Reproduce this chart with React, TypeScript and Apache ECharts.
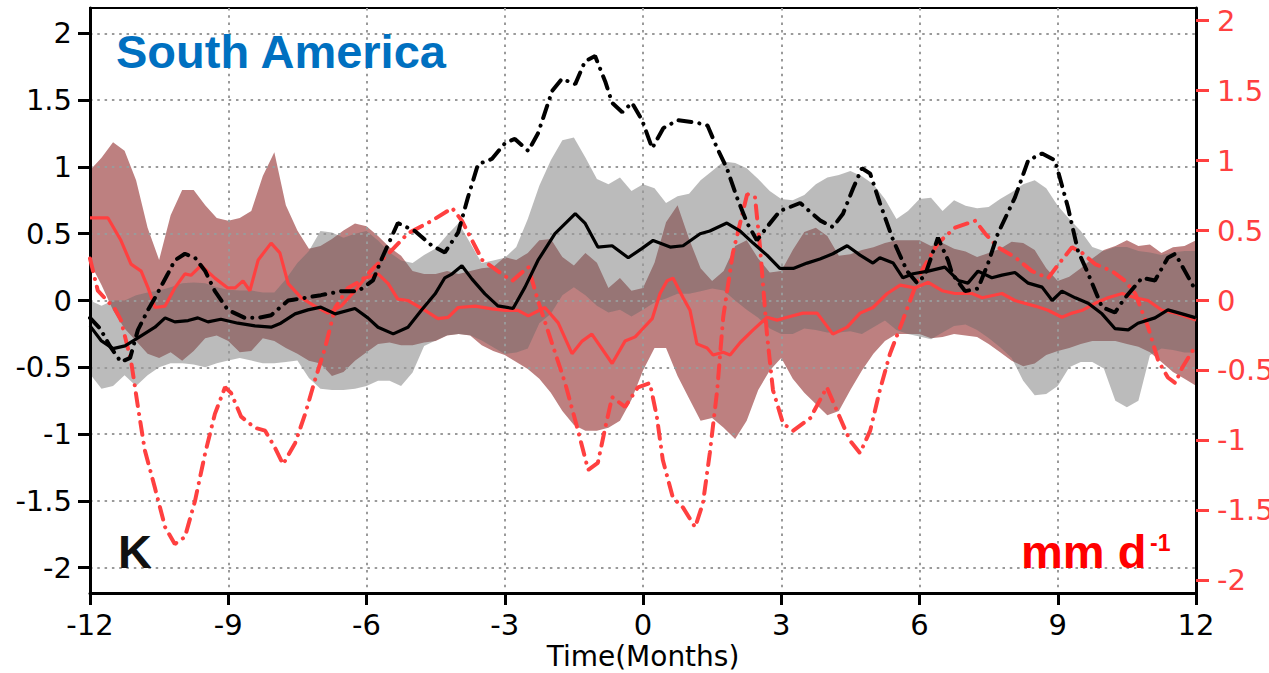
import React, { useEffect, useRef } from "react";
import * as echarts from "echarts";

// ---- data ----
const bandTime = [
  -12, -11.75, -11.5, -11.25, -11, -10.75, -10.5, -10.25, -10, -9.75, -9.5, -9.25, -9, -8.75, -8.5, -8.25, -8, -7.75, -7.5, -7.25, -7,
  -6.75, -6.5, -6.25, -6, -5.75, -5.5, -5.25, -5, -4.75, -4.5, -4.25, -4, -3.75, -3.5, -3.25, -3, -2.75, -2.5, -2.25, -2,
  -1.75, -1.5, -1.25, -1, -0.75, -0.5, -0.25, 0, 0.25, 0.5, 0.75, 1, 1.25, 1.5, 1.75, 2, 2.25, 2.5, 2.75, 3,
  3.25, 3.5, 3.75, 4, 4.25, 4.5, 4.75, 5, 5.25, 5.5, 5.75, 6, 6.25, 6.5, 6.75, 7, 7.25, 7.5, 7.75, 8,
  8.25, 8.5, 8.75, 9, 9.25, 9.5, 9.75, 10, 10.25, 10.5, 10.75, 11, 11.25, 11.5, 11.75, 12,
];

// temperature spread (K, left axis)
const grayHi = [
  0.0, -0.04, 0.0, 0.0, 0.04, 0.06, 0.075, 0.1, 0.13, 0.135, 0.13, 0.1, 0.08, 0.075, 0.075, 0.06, 0.06, 0.16, 0.28, 0.37, 0.52,
  0.51, 0.47, 0.5, 0.52, 0.45, 0.36, 0.3, 0.28, 0.34, 0.39, 0.49, 0.58, 0.43, 0.28, 0.3, 0.32, 0.4, 0.61, 0.86, 1.05,
  1.2, 1.22, 1.07, 0.91, 0.87, 0.92, 0.82, 0.87, 0.84, 0.73, 0.78, 0.8, 0.9, 0.97, 1.04, 1.03, 0.99, 0.91, 0.82, 0.76,
  0.75, 0.79, 0.87, 0.92, 0.94, 0.97, 0.93, 0.87, 0.76, 0.61, 0.67, 0.76, 0.77, 0.67, 0.75, 0.71, 0.69, 0.7, 0.76, 0.81,
  0.87, 0.9, 0.84, 0.71, 0.61, 0.52, 0.4, 0.37, 0.4, 0.4, 0.37, 0.36, 0.34, 0.36, 0.37, 0.37,
];
const grayLo = [
  -0.55, -0.66, -0.64, -0.56, -0.64, -0.56, -0.5, -0.47, -0.47, -0.48, -0.5, -0.47, -0.45, -0.43, -0.45, -0.47, -0.47, -0.46, -0.45, -0.58, -0.66,
  -0.67, -0.67, -0.66, -0.64, -0.6, -0.6, -0.64, -0.54, -0.34, -0.3, -0.26, -0.25, -0.26, -0.3, -0.35, -0.4, -0.39, -0.36, -0.17, -0.1,
  0.04, 0.1, 0.04, -0.04, -0.09, -0.07, -0.12, -0.07, -0.015, 0.015, 0.05, 0.05, 0.07, 0.09, 0.075, 0, -0.07, -0.13, -0.21, -0.25,
  -0.25, -0.21, -0.22, -0.24, -0.24, -0.23, -0.25, -0.2, -0.15, -0.22, -0.25, -0.27, -0.29, -0.24, -0.19, -0.18, -0.22, -0.28, -0.35, -0.43,
  -0.6, -0.71, -0.7, -0.64, -0.5, -0.46, -0.46, -0.51, -0.75, -0.8, -0.75, -0.41, -0.36, -0.37, -0.39, -0.39,
];

// precipitation spread (mm d-1, right axis)
const redHi = [
  0.93, 1.02, 1.13, 1.07, 0.86, 0.52, 0.29, 0.61, 0.79, 0.79, 0.68, 0.59, 0.57, 0.59, 0.64, 0.89, 1.06, 0.68, 0.5, 0.37, 0.39,
  0.44, 0.5, 0.55, 0.53, 0.46, 0.38, 0.32, 0.21, 0.19, 0.19, 0.21, 0.19, 0.21, 0.23, 0.24, 0.31, 0.29, 0.34, 0.43, 0.44,
  0.31, 0.25, 0.34, 0.27, 0.09, 0.16, 0.07, 0.09, 0.27, 0.56, 0.68, 0.44, 0.23, 0.14, 0.21, 0.39, 0.43, 0.3, 0.2, 0.21,
  0.36, 0.49, 0.52, 0.46, 0.32, 0.33, 0.36, 0.38, 0.41, 0.43, 0.43, 0.43, 0.39, 0.41, 0.37, 0.35, 0.31, 0.34, 0.37, 0.42,
  0.41, 0.36, 0.23, 0.14, 0.17, 0.23, 0.3, 0.36, 0.39, 0.43, 0.39, 0.4, 0.34, 0.38, 0.39, 0.43,
];
const redLo = [
  0.27, 0.11, -0.07, -0.2, -0.29, -0.38, -0.41, -0.37, -0.43, -0.36, -0.27, -0.25, -0.29, -0.37, -0.36, -0.27, -0.29, -0.34, -0.38, -0.43, -0.45,
  -0.54, -0.51, -0.43, -0.37, -0.31, -0.3, -0.32, -0.32, -0.3, -0.29, -0.25, -0.24, -0.25, -0.32, -0.36, -0.39, -0.44, -0.49, -0.56, -0.66,
  -0.79, -0.89, -0.93, -0.93, -0.91, -0.86, -0.71, -0.5, -0.34, -0.34, -0.54, -0.7, -0.86, -0.84, -0.91, -0.99, -0.86, -0.64, -0.5, -0.41,
  -0.56, -0.66, -0.74, -0.82, -0.79, -0.64, -0.5, -0.38, -0.29, -0.24, -0.24, -0.24, -0.27, -0.26, -0.24, -0.25, -0.26, -0.31, -0.37, -0.43,
  -0.47, -0.45, -0.39, -0.36, -0.34, -0.31, -0.29, -0.29, -0.29, -0.31, -0.33, -0.37, -0.44, -0.51, -0.56, -0.61,
];

// black solid (K)
const blackSolid = [
  [-12, -0.19], [-11.76, -0.3], [-11.5, -0.36], [-11.24, -0.34], [-10.96, -0.28], [-10.59, -0.2], [-10.37, -0.13], [-10.16, -0.16],
  [-9.87, -0.15], [-9.66, -0.13], [-9.44, -0.16], [-9.16, -0.14], [-8.79, -0.17], [-8.42, -0.19], [-8.07, -0.2], [-7.86, -0.17],
  [-7.55, -0.1], [-7.27, -0.07], [-6.99, -0.05], [-6.68, -0.1], [-6.25, -0.06], [-5.97, -0.13], [-5.75, -0.2], [-5.42, -0.25],
  [-5.1, -0.2], [-4.8, -0.07], [-4.51, 0.05], [-4.3, 0.17], [-4.14, 0.2], [-3.93, 0.26], [-3.71, 0.16], [-3.43, 0.05],
  [-3.15, -0.04], [-2.82, -0.06], [-2.56, 0.1], [-2.28, 0.3], [-1.91, 0.5], [-1.47, 0.65], [-1.26, 0.58], [-0.98, 0.4],
  [-0.67, 0.41], [-0.32, 0.32], [-0.02, 0.39], [0.22, 0.45], [0.59, 0.4], [0.87, 0.41], [1.24, 0.5], [1.45, 0.52],
  [1.82, 0.58], [2.11, 0.52], [2.39, 0.43], [2.69, 0.34], [2.97, 0.24], [3.26, 0.24], [3.56, 0.28], [3.84, 0.31],
  [4.12, 0.35], [4.43, 0.41], [4.71, 0.34], [4.99, 0.28], [5.14, 0.32], [5.43, 0.28], [5.64, 0.17], [5.86, 0.2],
  [6.19, 0.22], [6.55, 0.25], [6.84, 0.15], [7.05, 0.13], [7.27, 0.22], [7.57, 0.17], [7.79, 0.19], [8.07, 0.21],
  [8.36, 0.13], [8.66, 0.1], [8.88, 0], [9.09, 0.07], [9.38, 0.02], [9.66, -0.02], [9.96, -0.1], [10.24, -0.21],
  [10.53, -0.22], [10.74, -0.17], [11.11, -0.13], [11.39, -0.07], [11.7, -0.1], [12, -0.13],
];

// black dash-dot (K)
const blackDashDot = [
  [-12, -0.13], [-11.78, -0.21], [-11.57, -0.34], [-11.33, -0.46], [-11.13, -0.43], [-10.96, -0.22], [-10.74, -0.07], [-10.59, 0.02],
  [-10.31, 0.2], [-10.16, 0.3], [-9.94, 0.35], [-9.72, 0.32], [-9.5, 0.22], [-9.29, 0.07], [-9.01, -0.07], [-8.64, -0.13],
  [-8.35, -0.13], [-8.07, -0.11], [-7.7, 0], [-7.33, 0.02], [-6.99, 0.04], [-6.55, 0.07], [-6.18, 0.07], [-5.86, 0.15],
  [-5.66, 0.32], [-5.32, 0.58], [-4.95, 0.52], [-4.58, 0.41], [-4.3, 0.36], [-4.01, 0.51], [-3.8, 0.77], [-3.58, 1.02],
  [-3.28, 1.06], [-2.99, 1.18], [-2.78, 1.21], [-2.49, 1.12], [-2.28, 1.25], [-1.97, 1.57], [-1.76, 1.66], [-1.47, 1.62],
  [-1.26, 1.79], [-1.04, 1.83], [-0.82, 1.64], [-0.67, 1.48], [-0.45, 1.41], [-0.24, 1.48], [-0.02, 1.35], [0.2, 1.14],
  [0.44, 1.29], [0.75, 1.35], [1.18, 1.33], [1.4, 1.31], [1.61, 1.14], [1.82, 0.99], [2.04, 0.77], [2.26, 0.58],
  [2.47, 0.45], [2.69, 0.55], [2.97, 0.67], [3.41, 0.73], [3.84, 0.6], [4.12, 0.55], [4.34, 0.65], [4.56, 0.84],
  [4.75, 0.99], [4.93, 0.95], [5.14, 0.73], [5.43, 0.45], [5.73, 0.22], [5.95, 0.13], [6.12, 0.19], [6.4, 0.47],
  [6.62, 0.3], [6.71, 0.2], [6.99, 0.07], [7.27, 0.09], [7.49, 0.28], [7.7, 0.5], [8.07, 0.77], [8.36, 1.05],
  [8.66, 1.1], [8.94, 1.05], [9.22, 0.7], [9.44, 0.37], [9.66, 0.2], [9.96, -0.05], [10.24, -0.09], [10.46, 0.02],
  [10.83, 0.17], [11.11, 0.15], [11.39, 0.32], [11.55, 0.35], [11.76, 0.22], [12, 0.07],
];

// red solid (mm d-1)
const redSolid = [
  [-12, 0.59], [-11.61, 0.59], [-11.33, 0.43], [-11.11, 0.26], [-10.89, 0.21], [-10.74, 0.09], [-10.59, -0.05], [-10.37, -0.04],
  [-10.16, 0.09], [-9.94, 0.19], [-9.81, 0.18], [-9.59, 0.25], [-9.29, 0.16], [-9.01, 0.09], [-8.85, 0.09], [-8.68, 0.14],
  [-8.53, 0.07], [-8.35, 0.29], [-8.07, 0.41], [-7.88, 0.34], [-7.7, 0.12], [-7.42, 0.02], [-7.12, -0.04], [-6.84, -0.09],
  [-6.55, -0.04], [-6.25, 0.07], [-6.03, 0.16], [-5.75, 0.19], [-5.53, 0.12], [-5.32, 0.01], [-5.1, 0], [-4.73, -0.07],
  [-4.45, -0.13], [-4.23, -0.12], [-4.01, -0.05], [-3.64, -0.04], [-3.28, -0.06], [-2.99, -0.07], [-2.71, -0.07], [-2.49, -0.11],
  [-2.13, -0.05], [-1.84, -0.16], [-1.54, -0.38], [-1.32, -0.29], [-1.11, -0.24], [-0.67, -0.45], [-0.39, -0.29], [-0.17, -0.26],
  [0, -0.2], [0.2, -0.13], [0.37, 0.05], [0.52, 0.14], [0.65, 0.16], [0.87, 0.02], [1.02, -0.07], [1.17, -0.31],
  [1.39, -0.34], [1.52, -0.39], [1.74, -0.37], [1.89, -0.39], [2.11, -0.3], [2.39, -0.21], [2.69, -0.12], [2.91, -0.14],
  [3.13, -0.12], [3.47, -0.09], [3.78, -0.09], [4.12, -0.24], [4.43, -0.19], [4.71, -0.09], [4.99, -0.05], [5.3, 0.05],
  [5.58, 0.11], [5.9, 0.09], [6.19, 0.13], [6.49, 0.07], [6.77, 0.05], [7.14, 0.05], [7.36, 0.02], [7.79, 0.05],
  [8.07, 0], [8.51, -0.04], [8.79, -0.07], [9.09, -0.12], [9.31, -0.09], [9.53, -0.07], [9.81, -0.02], [10.09, 0.02],
  [10.4, 0.05], [10.68, 0.02], [10.96, 0], [11.26, -0.07], [11.55, -0.09], [12, -0.14],
];

// red dash-dot (mm d-1)
const redDashDot = [
  [-12, 0.3], [-11.83, 0.07], [-11.46, -0.06], [-11.33, -0.14], [-11.11, -0.43], [-10.96, -0.76], [-10.81, -1.07], [-10.59, -1.34],
  [-10.37, -1.62], [-10.16, -1.74], [-9.94, -1.69], [-9.72, -1.43], [-9.5, -1.09], [-9.29, -0.81], [-9.07, -0.62], [-8.94, -0.66],
  [-8.72, -0.83], [-8.42, -0.91], [-8.2, -0.93], [-7.99, -1.05], [-7.81, -1.17], [-7.55, -1.02], [-7.33, -0.81], [-7.12, -0.57],
  [-6.9, -0.34], [-6.68, -0.05], [-6.4, 0.09], [-6.12, 0.14], [-5.82, 0.24], [-5.45, 0.36], [-5.1, 0.48], [-4.58, 0.57],
  [-4.14, 0.66], [-3.93, 0.57], [-3.71, 0.43], [-3.49, 0.29], [-3.15, 0.21], [-2.84, 0.14], [-2.49, 0.24], [-2.28, 0],
  [-1.97, -0.31], [-1.69, -0.59], [-1.41, -0.93], [-1.19, -1.21], [-0.98, -1.16], [-0.82, -0.91], [-0.67, -0.69], [-0.39, -0.76],
  [-0.11, -0.62], [0.15, -0.59], [0.3, -0.83], [0.43, -1.14], [0.65, -1.41], [0.87, -1.48], [1.13, -1.62], [1.3, -1.45],
  [1.45, -1.09], [1.61, -0.64], [1.74, -0.12], [1.95, 0.34], [2.26, 0.76], [2.43, 0.74], [2.54, 0.38], [2.69, -0.24],
  [2.82, -0.64], [3.04, -0.88], [3.26, -0.93], [3.63, -0.84], [3.99, -0.62], [4.21, -0.79], [4.49, -1.0], [4.71, -1.09],
  [4.93, -0.93], [5.14, -0.64], [5.36, -0.38], [5.64, -0.14], [6.01, 0.19], [6.4, 0.41], [6.77, 0.52], [7.21, 0.57],
  [7.42, 0.48], [7.7, 0.38], [8.07, 0.31], [8.44, 0.21], [8.79, 0.16], [9.09, 0.29], [9.31, 0.38], [9.53, 0.34],
  [9.81, 0.26], [10.18, 0.21], [10.46, 0.14], [10.68, 0.05], [10.96, -0.19], [11.18, -0.43], [11.39, -0.55], [11.55, -0.59],
  [11.7, -0.48], [12, -0.32],
];

const xTicks = [-12, -9, -6, -3, 0, 3, 6, 9, 12];
const yTicks = [-2, -1.5, -1, -0.5, 0, 0.5, 1, 1.5, 2];

const RED = "#ff4040";
const FONT = "DejaVu Sans";
const BOLD = '"Liberation Sans", Arial, sans-serif';

function bandSeries(lo: number[], hi: number[], yAxisIndex: number, color: string) {
  const rows = bandTime.map((t, i) => [t, lo[i], hi[i]]);
  return {
    type: "custom",
    yAxisIndex,
    z: 1,
    silent: true,
    clip: true,
    encode: { x: 0, y: [1, 2] },
    data: rows,
    renderItem: (params: any, api: any) => {
      if (params.dataIndex !== 0) return null;
      const upper = rows.map((r) => api.coord([r[0], r[2]]));
      const lower = rows.map((r) => api.coord([r[0], r[1]])).reverse();
      return {
        type: "polygon",
        shape: { points: upper.concat(lower) },
        style: { fill: color, stroke: null },
      };
    },
  };
}

export default function App() {
  const ref = useRef<HTMLDivElement>(null);

  useEffect(() => {
    if (!ref.current) return;
    const chart = echarts.init(ref.current, null, { renderer: "svg" });
    const dotted = { show: true, lineStyle: { color: "#9a9a9a", width: 2, type: [2.5, 4.8] } };
    const dashDot = [13, 8, 0.1, 8];

    const option: any = {
      animation: false,
      grid: {
        left: 90,
        right: 73,
        top: 8,
        bottom: 80,
        show: true,
        borderColor: "#000",
        borderWidth: 2,
        backgroundColor: "transparent",
        containLabel: false,
        outerBoundsMode: "none",
      },
      xAxis: {
        type: "value",
        min: -12,
        max: 12,
        interval: 3,
        z: 3,
        axisLine: { show: true, onZero: false, lineStyle: { color: "#000", width: 3 } },
        axisTick: { show: true, inside: false, length: 12, lineStyle: { color: "#000", width: 3 } },
        axisLabel: { color: "#000", fontSize: 29, lineHeight: 26, fontFamily: FONT, margin: 19, customValues: xTicks },
        splitLine: dotted,
        name: "Time(Months)",
        nameLocation: "middle",
        nameGap: 51,
        nameMoveOverlap: false,
        nameTextStyle: { color: "#000", fontSize: 28, fontFamily: FONT, lineHeight: 24 },
      },
      yAxis: [
        {
          type: "value",
          min: -2.19,
          max: 2.19,
          position: "left",
          z: 3,
          axisLine: { show: true, onZero: false, lineStyle: { color: "#000", width: 3 } },
          axisTick: { show: true, inside: false, length: 12, customValues: yTicks, lineStyle: { color: "#000", width: 3 } },
          axisLabel: { color: "#000", fontSize: 29, fontFamily: FONT, margin: 18, customValues: yTicks },
          splitLine: dotted,
        },
        {
          type: "value",
          min: -2.09,
          max: 2.09,
          position: "right",
          z: 3,
          axisLine: { show: true, onZero: false, lineStyle: { color: "#000", width: 3 } },
          axisTick: { show: true, inside: false, length: 13, customValues: yTicks, lineStyle: { color: RED, width: 3 } },
          axisLabel: { color: RED, fontSize: 29, fontFamily: FONT, margin: 21, customValues: yTicks },
          splitLine: { show: false },
        },
      ],
      series: [
        bandSeries(redLo, redHi, 1, "#bd8080"),
        bandSeries(grayLo, grayHi, 0, "rgba(105,105,105,0.45)"),
        {
          type: "line",
          yAxisIndex: 1,
          data: redDashDot,
          symbol: "none",
          z: 5,
          lineStyle: { color: RED, width: 4, type: dashDot, cap: "round" },
        },
        {
          type: "line",
          yAxisIndex: 1,
          data: redSolid,
          symbol: "none",
          z: 6,
          lineStyle: { color: RED, width: 3.2 },
        },
        {
          type: "line",
          yAxisIndex: 0,
          data: blackDashDot,
          symbol: "none",
          z: 7,
          lineStyle: { color: "#000", width: 4, type: dashDot, cap: "round" },
        },
        {
          type: "line",
          yAxisIndex: 0,
          data: blackSolid,
          symbol: "none",
          z: 8,
          lineStyle: { color: "#000", width: 3.2 },
        },
      ],
      graphic: [
        {
          type: "text",
          x: 116,
          y: 51,
          z: 10,
          style: { text: "South America", fill: "#0070c0", font: `bold 47px ${BOLD}`, verticalAlign: "middle", align: "left" },
        },
        {
          type: "text",
          x: 118,
          y: 551,
          z: 10,
          style: { text: "K", fill: "#111", font: `bold 47px ${BOLD}`, verticalAlign: "middle", align: "left" },
        },
        {
          type: "text",
          x: 1021,
          y: 551,
          z: 10,
          style: { text: "mm d", fill: "#ff0000", font: `bold 47px ${BOLD}`, verticalAlign: "middle", align: "left" },
        },
        {
          type: "text",
          x: 1150,
          y: 543,
          z: 10,
          style: { text: "-1", fill: "#ff0000", font: `bold 23px ${BOLD}`, verticalAlign: "middle", align: "left" },
        },
      ],
    };

    chart.setOption(option);
    return () => chart.dispose();
  }, []);

  return <div ref={ref} style={{ position: "absolute", left: 0, top: 0, width: 1269, height: 673 }} />;
}
